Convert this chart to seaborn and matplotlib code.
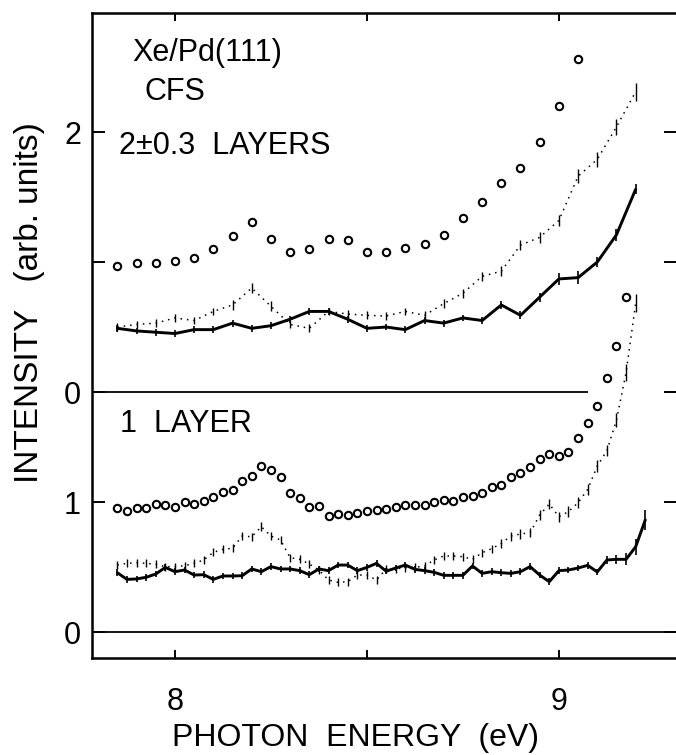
import matplotlib
matplotlib.use("Agg")
import matplotlib.pyplot as plt
import numpy as np
import seaborn as sns

# photon energies (eV)
E_UPPER = [7.85, 7.90, 7.95, 8.00, 8.05, 8.10, 8.15, 8.20, 8.25, 8.30, 8.35, 8.40, 8.45, 8.50,
           8.55, 8.60, 8.65, 8.70, 8.75, 8.80, 8.85, 8.90, 8.95, 9.00, 9.05, 9.10, 9.15, 9.20]
E_LOWER = [7.850, 7.875, 7.900, 7.925, 7.950, 7.975, 8.000, 8.025, 8.050, 8.075, 8.100, 8.125,
           8.150, 8.175, 8.200, 8.225, 8.250, 8.275, 8.300, 8.325, 8.350, 8.375, 8.400, 8.425,
           8.450, 8.475, 8.500, 8.525, 8.550, 8.575, 8.600, 8.625, 8.650, 8.675, 8.700, 8.725,
           8.750, 8.775, 8.800, 8.825, 8.850, 8.875, 8.900, 8.925, 8.950, 8.975, 9.000, 9.025,
           9.050, 9.075, 9.100, 9.125, 9.150, 9.175, 9.200, 9.225]

# 2 +- 0.3 layers
UP_CIRCLES = [0.97, 0.99, 0.99, 1.01, 1.03, 1.10, 1.20, 1.31, 1.18, 1.08, 1.10, 1.18, 1.17, 1.08,
              1.08, 1.11, 1.14, 1.21, 1.34, 1.46, 1.61, 1.72, 1.92, 2.20, 2.56]
UP_DOTTED = [0.50, 0.52, 0.53, 0.57, 0.55, 0.62, 0.67, 0.80, 0.66, 0.52, 0.49, 0.62, 0.60, 0.59,
             0.585, 0.62, 0.59, 0.68, 0.76, 0.89, 0.93, 1.13, 1.19, 1.32, 1.66, 1.79, 2.04, 2.31]
UP_DOTTED_ERR = [0.03, 0.03, 0.03, 0.03, 0.03, 0.03, 0.04, 0.04, 0.04, 0.03, 0.03, 0.03, 0.03, 0.03,
                 0.03, 0.03, 0.03, 0.035, 0.035, 0.035, 0.04, 0.04, 0.04, 0.045, 0.055, 0.058, 0.064, 0.07]
UP_SOLID = [0.49, 0.47, 0.46, 0.45, 0.48, 0.48, 0.53, 0.49, 0.51, 0.56, 0.62, 0.62, 0.56, 0.49,
            0.50, 0.48, 0.55, 0.53, 0.57, 0.55, 0.67, 0.59, 0.73, 0.87, 0.88, 1.00, 1.21, 1.56]
UP_SOLID_ERR = [0.026, 0.026, 0.026, 0.026, 0.026, 0.026, 0.026, 0.026, 0.026, 0.026, 0.026, 0.026,
                0.026, 0.026, 0.026, 0.026, 0.026, 0.026, 0.026, 0.026, 0.03, 0.03, 0.035, 0.045,
                0.05, 0.042, 0.045, 0.04]

# 1 layer
LO_CIRCLES = [0.956, 0.931, 0.951, 0.951, 0.985, 0.979, 0.959, 0.997, 0.985, 1.010, 1.038, 1.077,
              1.090, 1.159, 1.197, 1.274, 1.249, 1.190, 1.067, 1.031, 0.959, 0.967, 0.895, 0.908,
              0.900, 0.913, 0.931, 0.936, 0.943, 0.965, 0.977, 0.977, 0.974, 0.997, 1.018, 1.010,
              1.036, 1.046, 1.069, 1.118, 1.133, 1.190, 1.221, 1.269, 1.333, 1.372, 1.356, 1.385,
              1.490, 1.608, 1.741, 1.954, 2.200, 2.577]
LO_DOTTED = [0.515, 0.528, 0.533, 0.528, 0.521, 0.503, 0.503, 0.510, 0.528, 0.554, 0.613, 0.636,
             0.644, 0.738, 0.733, 0.810, 0.738, 0.708, 0.572, 0.559, 0.523, 0.477, 0.400, 0.382,
             0.387, 0.438, 0.438, 0.400, 0.485, 0.486, 0.495, 0.497, 0.508, 0.554, 0.585, 0.585,
             0.579, 0.559, 0.610, 0.641, 0.682, 0.738, 0.754, 0.764, 0.900, 0.985, 0.887, 0.926,
             0.995, 1.097, 1.277, 1.395, 1.631, 1.995, 2.528]
LO_DOTTED_ERR = [0.03, 0.03, 0.03, 0.03, 0.03, 0.03, 0.03, 0.03, 0.03, 0.03, 0.03, 0.03,
                 0.03, 0.03, 0.03, 0.035, 0.03, 0.03, 0.03, 0.03, 0.03, 0.03, 0.03, 0.03,
                 0.03, 0.03, 0.03, 0.03, 0.03, 0.03, 0.03, 0.03, 0.03, 0.03, 0.03, 0.03,
                 0.03, 0.03, 0.03, 0.03, 0.035, 0.035, 0.035, 0.035, 0.04, 0.04, 0.04, 0.04,
                 0.04, 0.045, 0.045, 0.04, 0.055, 0.065, 0.07]
LO_SOLID = [0.456, 0.405, 0.408, 0.421, 0.446, 0.497, 0.464, 0.477, 0.438, 0.441, 0.405, 0.431,
            0.431, 0.433, 0.485, 0.464, 0.503, 0.485, 0.485, 0.472, 0.441, 0.485, 0.472, 0.515,
            0.515, 0.472, 0.497, 0.528, 0.468, 0.492, 0.515, 0.482, 0.472, 0.459, 0.436, 0.436,
            0.436, 0.508, 0.451, 0.464, 0.456, 0.451, 0.464, 0.503, 0.438, 0.387, 0.472, 0.477,
            0.492, 0.513, 0.462, 0.554, 0.559, 0.559, 0.656, 0.862]
LO_SOLID_ERR = [0.025, 0.025, 0.025, 0.025, 0.025, 0.025, 0.025, 0.025, 0.025, 0.025, 0.025, 0.025,
                0.025, 0.025, 0.025, 0.025, 0.025, 0.025, 0.025, 0.025, 0.025, 0.025, 0.025, 0.025,
                0.025, 0.025, 0.025, 0.025, 0.025, 0.025, 0.025, 0.025, 0.025, 0.025, 0.025, 0.025,
                0.025, 0.025, 0.025, 0.025, 0.025, 0.025, 0.025, 0.025, 0.025, 0.025, 0.025, 0.025,
                0.025, 0.025, 0.025, 0.03, 0.035, 0.045, 0.06, 0.075]

UPPER_BASE = 240 / 130  # upper panel zero, in lower-panel units
Y_TICKS = [0, 1, UPPER_BASE, UPPER_BASE + 1, UPPER_BASE + 2]
Y_TICK_LABELS = ["0", "1", "0", "", "2"]
X_TICKS = [8.0, 8.5, 9.0]
X_TICK_LABELS = ["8", "", "9"]

sns.set_theme(style="white")
plt.rcParams["font.family"] = ["Liberation Sans", "DejaVu Sans"]
for key in ["text.color", "axes.labelcolor", "xtick.color", "ytick.color"]:
    plt.rcParams[key] = "black"
FS = 22

fig = plt.figure(figsize=(6.76, 7.55), dpi=100)
ax = fig.add_axes([92 / 676, 97 / 755, 584 / 676, 645 / 755])


def panel(energies, circles, dotted, dotted_err, solid, solid_err, base):
    e = np.asarray(energies)
    dot = np.asarray(dotted) + base
    sol = np.asarray(solid) + base
    sns.scatterplot(x=e[:len(circles)], y=np.asarray(circles) + base, ax=ax, marker="o", s=28,
                    color="white", edgecolor="black", linewidth=1.5, zorder=4)
    sns.lineplot(x=e[:len(dot)], y=dot, ax=ax, color="black", lw=1.1,
                 linestyle=(0, (1, 3.2)), zorder=2)
    ax.vlines(e[:len(dot)], dot - np.asarray(dotted_err), dot + np.asarray(dotted_err),
              color="black", lw=1.0, zorder=2)
    sns.lineplot(x=e[:len(sol)], y=sol, ax=ax, color="black", lw=2.1, zorder=3)
    ax.vlines(e[:len(sol)], sol - np.asarray(solid_err), sol + np.asarray(solid_err),
              color="black", lw=1.2, zorder=3)


panel(E_UPPER, UP_CIRCLES, UP_DOTTED, UP_DOTTED_ERR, UP_SOLID, UP_SOLID_ERR, UPPER_BASE)
panel(E_LOWER, LO_CIRCLES, LO_DOTTED, LO_DOTTED_ERR, LO_SOLID, LO_SOLID_ERR, 0.0)

ax.set_xlim(7.784, 9.305)
ax.set_ylim(-0.2, 4.762)

# baselines of the two panels (the upper one is broken where the curves pass)
ax.axhline(0, color="black", lw=1.3, zorder=1)
ax.hlines(UPPER_BASE, 7.784, 9.075, color="black", lw=1.3, zorder=1)
ax.hlines(UPPER_BASE, 9.281, 9.305, color="black", lw=1.3, zorder=1)

ax.set_xticks(X_TICKS)
ax.set_xticklabels(X_TICK_LABELS)
ax.set_yticks(Y_TICKS)
ax.set_yticklabels(Y_TICK_LABELS)
ax.tick_params(axis="x", direction="in", length=6, width=1.4, top=True, bottom=True,
               labelsize=FS, pad=21)
ax.tick_params(axis="y", direction="in", length=9, width=1.4, left=True, right=True,
               labelsize=FS, pad=8)
for side in ["left", "bottom", "top"]:
    ax.spines[side].set_linewidth(1.8)
    ax.spines[side].set_color("black")
ax.spines["right"].set_visible(False)

ax.set_xlabel("")
ax.set_ylabel("")
fig.text(355 / 676, 1 - 738 / 755, "PHOTON  ENERGY  (eV)", fontsize=23,
         ha="center", va="center")
fig.text(30 / 676, 1 - 303 / 755, "INTENSITY   (arb. units)", rotation=90, fontsize=24,
         ha="center", va="center")

ax.text(7.888, 4.392, "Xe/Pd(111)", fontsize=FS, ha="left", va="baseline")
ax.text(7.922, 4.092, "CFS", fontsize=FS, ha="left", va="baseline")
ax.text(7.854, 3.677, "2\u00b10.3  LAYERS", fontsize=FS, ha="left", va="baseline")
ax.text(7.857, 1.538, "1  LAYER", fontsize=FS, ha="left", va="baseline")

fig.savefig("out.png", dpi=100)
